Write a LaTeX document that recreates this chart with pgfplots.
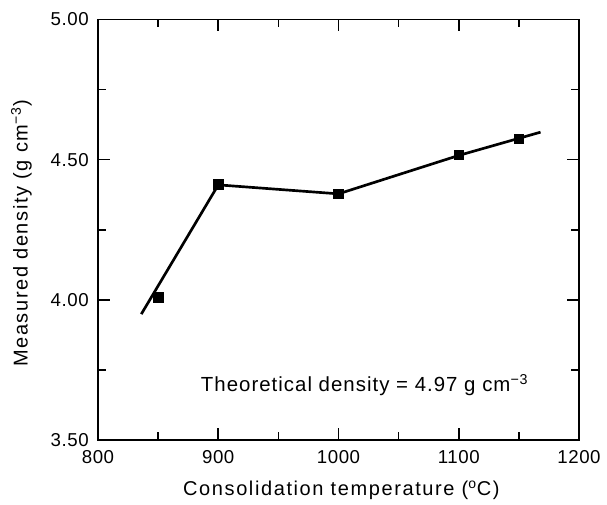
\documentclass[border=0pt]{standalone}
\usepackage{fontspec}
\setmainfont{Liberation Sans}
\newfontfamily\tickfont[LetterSpace=3]{Liberation Sans}
\newfontfamily\lblfont[LetterSpace=8]{Liberation Sans}
\newfontfamily\annfont[LetterSpace=5]{Liberation Sans}
\usepackage{pgfplots}
\pgfplotsset{compat=1.18}
\begin{document}
\begin{tikzpicture}
\begin{axis}[
  scale only axis,
  width=360.75pt, height=315.4pt,
  xmin=800, xmax=1200, ymin=3.5, ymax=5.0,
  xtick={800,900,1000,1100,1200},
  ytick={3.5,4.0,4.5,5.0},
  minor x tick num=1, minor y tick num=1,
  tick pos=both, tick align=inside,
  major tick length=9pt, minor tick length=6pt,
  axis line style={line width=1.3pt},
  every tick/.style={line width=1.2pt, black},
  /pgf/number format/assume math mode=true,
  x tick label style={font=\fontsize{14pt}{16pt}\tickfont, inner sep=0pt, anchor=north, yshift=-8pt,
     /pgf/number format/1000 sep={}},
  y tick label style={font=\fontsize{14pt}{16pt}\tickfont, inner sep=0pt, anchor=east, xshift=-6.75pt,
     /pgf/number format/.cd, fixed, fixed zerofill, precision=2},
  xticklabel shift=0pt, yticklabel shift=0pt,
  clip=false,
]
\addplot[black, line width=2pt, mark=none] coordinates {
  (836,3.949) (900,4.41) (1000,4.378) (1100,4.515) (1168,4.598)
};
\addplot[only marks, mark=square*, mark size=3.6pt, mark options={black, fill=black, line width=0.4pt}] coordinates {
  (850,4.009) (900,4.412) (1000,4.378) (1100,4.517) (1150,4.574)
};
\node[anchor=base west, inner sep=0pt, font=\fontsize{15.3pt}{17pt}\annfont] at (axis cs:885.4,3.672)
  {Theoretical density = 4.97 g cm\textsuperscript{−3}};
\node[anchor=base, inner sep=0pt, font=\fontsize{15pt}{17pt}\lblfont] at ([yshift=-41.25pt]axis description cs:0.506,0)
  {Consolidation temperature (\textsuperscript{o}C)};
\node[rotate=90, anchor=base, inner sep=0pt, font=\fontsize{15pt}{17pt}\lblfont] at ([xshift=-52.7pt]axis description cs:0,0.491)
  {Measured density (g cm\textsuperscript{−3})};
\end{axis}
\pgfresetboundingbox
\path[use as bounding box] (-73.5pt,-48pt) rectangle (381.75pt,330pt);
\end{tikzpicture}
\end{document}
